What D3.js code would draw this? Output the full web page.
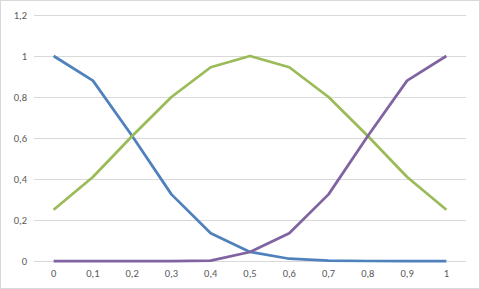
<!DOCTYPE html>
<html>
<head>
<meta charset="utf-8">
<script src="https://cdn.jsdelivr.net/npm/d3@7"></script>
<style>
  body { margin: 0; background: #fff; }
  svg { display: block; font-family: Calibri, Carlito, "Open Sans", sans-serif; }
</style>
</head>
<body>
<svg id="chart" width="480" height="289"></svg>
<script>
// categories on the x axis
var categories = ["0", "0,1", "0,2", "0,3", "0,4", "0,5", "0,6", "0,7", "0,8", "0,9", "1"];
// y tick labels
var yTicks = [0, 0.2, 0.4, 0.6, 0.8, 1, 1.2];

// series
var blueValues   = [1, 0.88, 0.61, 0.325, 0.135, 0.044, 0.011, 0.002, 0, 0, 0];
var greenValues  = [0.25, 0.41, 0.61, 0.80, 0.945, 1, 0.945, 0.80, 0.61, 0.41, 0.25];
var purpleValues = [0, 0, 0, 0, 0.002, 0.044, 0.135, 0.325, 0.61, 0.88, 1];

var series = [
    {name: "blue", values: blueValues, color: "#4f81bd"},
    {name: "green", values: greenValues, color: "#9bbb59"},
    {name: "purple", values: purpleValues, color: "#8064a2"}
];

var svg = d3.select("#chart");

// outer chart border
svg.append("rect")
    .attr("x", 0.5).attr("y", 0.5)
    .attr("width", 479).attr("height", 288)
    .attr("fill", "#fff")
    .attr("stroke", "#d9d9d9");

var plotLeft = 34, plotRight = 466, plotTop = 15, plotBottom = 261;

var x = d3.scaleBand().domain(categories).range([plotLeft, plotRight]);
var y = d3.scaleLinear().domain([0, 1.2]).range([plotBottom, plotTop]);

// gridlines
svg.append("g")
    .selectAll("line")
    .data(yTicks)
    .enter()
    .append("line")
    .attr("x1", plotLeft).attr("x2", plotRight)
    .attr("y1", function(d) { return Math.round(y(d)) + 0.5 })
    .attr("y2", function(d) { return Math.round(y(d)) + 0.5 })
    .attr("stroke", "#d9d9d9")
    .attr("stroke-width", 1);

// y labels
svg.append("g")
    .selectAll("text")
    .data(yTicks)
    .enter()
    .append("text")
    .attr("x", 27)
    .attr("y", function(d) { return y(d) })
    .attr("dy", "0.35em")
    .attr("text-anchor", "end")
    .attr("font-size", "10.5px")
    .attr("fill", "#595959")
    .text(function(d) { return String(d).replace(".", ",") });

// x labels
svg.append("g")
    .selectAll("text")
    .data(categories)
    .enter()
    .append("text")
    .attr("x", function(d) { return x(d) + x.bandwidth() / 2 })
    .attr("y", 273)
    .attr("dy", "0.35em")
    .attr("text-anchor", "middle")
    .attr("font-size", "10.5px")
    .attr("fill", "#595959")
    .text(function(d) { return d });

var line = d3.line()
    .x(function(d, i) { return x(categories[i]) + x.bandwidth() / 2 })
    .y(function(d) { return y(d) });

svg.append("g")
    .selectAll("path")
    .data(series)
    .enter()
    .append("path")
    .attr("d", function(d) { return line(d.values) })
    .attr("fill", "none")
    .attr("stroke", function(d) { return d.color })
    .attr("stroke-width", 2.75)
    .attr("stroke-linejoin", "round")
    .attr("stroke-linecap", "butt");
</script>
</body>
</html>
